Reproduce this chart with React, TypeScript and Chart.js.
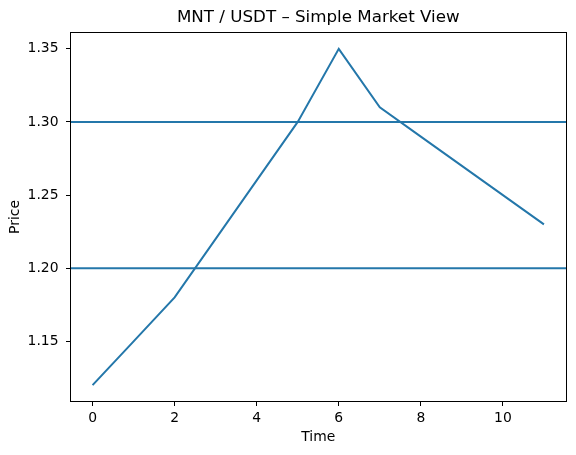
import React, { useEffect, useRef } from "react";
import { Chart, registerables } from "chart.js";

Chart.register(...registerables);

const timeSteps = [0, 1, 2, 3, 4, 5, 6, 7, 8, 9, 10, 11];
const prices = [1.12, 1.15, 1.18, 1.22, 1.26, 1.3, 1.35, 1.31, 1.29, 1.27, 1.25, 1.23];
const levelLines = [1.3, 1.2];
const xTicks = [0, 2, 4, 6, 8, 10];
const yTicks = [1.15, 1.2, 1.25, 1.3, 1.35];
const titleText = "MNT / USDT – Simple Market View";
const xLabel = "Time";
const yLabel = "Price";

const LINE_COLOR = "#2477aa";
const FONT = "'DejaVu Sans', sans-serif";
const TICK_SIZE = 13.9;

export default function App() {
  const ref = useRef<HTMLCanvasElement | null>(null);

  useEffect(() => {
    document.body.style.margin = "0";
    const canvas = ref.current;
    if (!canvas) return;

    const overlay = {
      id: "overlay",
      afterDatasetsDraw(chart: any) {
        const { ctx, chartArea } = chart;
        const yScale = chart.scales.y;
        ctx.save();
        ctx.beginPath();
        ctx.rect(chartArea.left, chartArea.top, chartArea.right - chartArea.left, chartArea.bottom - chartArea.top);
        ctx.clip();
        ctx.strokeStyle = LINE_COLOR;
        ctx.lineWidth = 2;
        for (const lv of levelLines) {
          const py = yScale.getPixelForValue(lv);
          ctx.beginPath();
          ctx.moveTo(chartArea.left, py);
          ctx.lineTo(chartArea.right, py);
          ctx.stroke();
        }
        ctx.restore();
      },
      afterDraw(chart: any) {
        const { ctx, chartArea } = chart;
        ctx.save();
        ctx.strokeStyle = "#000";
        ctx.lineWidth = 1;
        ctx.strokeRect(
          Math.round(chartArea.left) + 0.5,
          Math.round(chartArea.top) + 0.5,
          Math.round(chartArea.right - chartArea.left) - 1,
          Math.round(chartArea.bottom - chartArea.top) - 1
        );
        ctx.fillStyle = "#000";
        ctx.font = `16.7px ${FONT}`;
        ctx.textAlign = "center";
        ctx.textBaseline = "middle";
        ctx.fillText(titleText, (chartArea.left + chartArea.right) / 2, 18);
        ctx.restore();
      },
    };

    const chart = new Chart(canvas, {
      type: "line",
      data: {
        datasets: [
          {
            data: timeSteps.map((t, i) => ({ x: t, y: prices[i] })),
            borderColor: LINE_COLOR,
            borderWidth: 2,
            pointRadius: 0,
            tension: 0,
            fill: false,
          },
        ],
      },
      options: {
        responsive: false,
        animation: false,
        layout: { padding: { top: 32, right: 9.5, bottom: 0, left: 0 } },
        plugins: {
          legend: { display: false },
          tooltip: { enabled: false },
          title: { display: false },
        },
        scales: {
          x: {
            type: "linear",
            min: -0.55,
            max: 11.55,
            afterBuildTicks: (axis: any) => {
              axis.ticks = xTicks.map((v) => ({ value: v }));
            },
            afterFit: (axis: any) => {
              axis.height = 53;
            },
            border: { display: false },
            grid: { drawOnChartArea: false, drawTicks: true, tickLength: 4, tickColor: "#000", color: "#000" },
            ticks: {
              color: "#000",
              font: { family: FONT, size: TICK_SIZE },
              padding: 4,
              maxRotation: 0,
              callback: (v: any) => String(v),
            },
            title: {
              display: true,
              text: xLabel,
              color: "#000",
              font: { family: FONT, size: TICK_SIZE },
              padding: { top: 0, bottom: 9.5 },
            },
          },
          y: {
            type: "linear",
            min: 1.1085,
            max: 1.3615,
            afterBuildTicks: (axis: any) => {
              axis.ticks = yTicks.map((v) => ({ value: v }));
            },
            afterFit: (axis: any) => {
              axis.width = 70;
            },
            border: { display: false },
            grid: { drawOnChartArea: false, drawTicks: true, tickLength: 4, tickColor: "#000", color: "#000" },
            ticks: {
              color: "#000",
              font: { family: FONT, size: TICK_SIZE },
              padding: 7.5,
              callback: (v: any) => Number(v).toFixed(2),
            },
            title: {
              display: true,
              text: yLabel,
              color: "#000",
              font: { family: FONT, size: TICK_SIZE },
              padding: { top: 7.5, bottom: 0 },
            },
          },
        },
      },
      plugins: [overlay],
    });

    return () => chart.destroy();
  }, []);

  return <canvas ref={ref} width={576} height={455} style={{ display: "block" }} />;
}
